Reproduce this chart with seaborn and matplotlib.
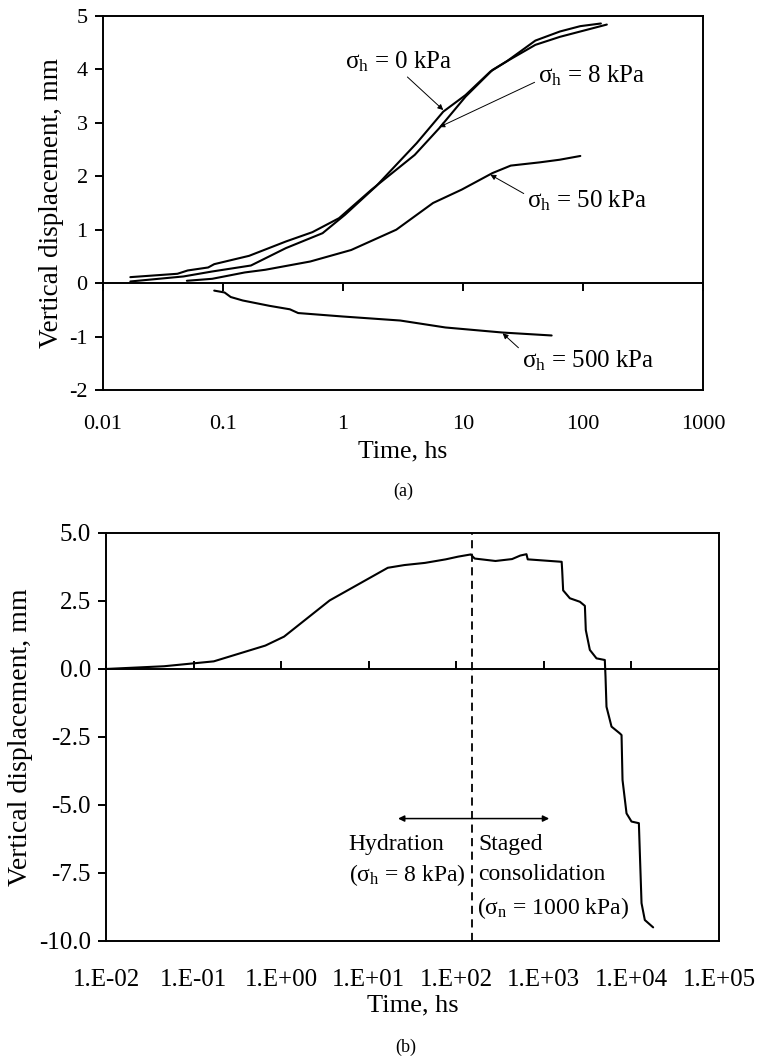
import numpy as np
import pandas as pd
import matplotlib
matplotlib.use("Agg")
import matplotlib.pyplot as plt
import seaborn as sns
from matplotlib.ticker import FixedLocator, FixedFormatter, NullLocator

# ---------------- data (a) ----------------
t_0kpa = [0.0169, 0.0469, 0.0813, 0.171, 0.334, 0.676, 1.04, 1.88, 4.11, 6.85, 10.5, 16.9, 23.1, 40.1, 64.2, 94.9, 141]
d_0kpa = [0.031, 0.125, 0.218, 0.330, 0.655, 0.935, 1.28, 1.81, 2.62, 3.21, 3.52, 3.96, 4.15, 4.54, 4.71, 4.81, 4.86]

t_8kpa = [0.0169, 0.0417, 0.0508, 0.0752, 0.0845, 0.165, 0.334, 0.556, 0.927, 1.73, 3.96, 6.34, 10.5, 17.6, 23.1, 40.1, 64.2, 158]
d_8kpa = [0.112, 0.175, 0.237, 0.293, 0.355, 0.511, 0.779, 0.954, 1.216, 1.75, 2.40, 2.90, 3.49, 3.99, 4.15, 4.46, 4.61, 4.84]

t_50kpa = [0.050, 0.0813, 0.152, 0.225, 0.534, 1.17, 2.78, 5.63, 9.75, 17.6, 25.0, 43.4, 64.0, 95.0]
d_50kpa = [0.044, 0.081, 0.20, 0.25, 0.405, 0.62, 1.00, 1.50, 1.75, 2.06, 2.20, 2.26, 2.31, 2.38]

t_500kpa = [0.0845, 0.103, 0.116, 0.146, 0.244, 0.361, 0.423, 1.0, 3.0, 7.13, 21.4, 54.8]
d_500kpa = [-0.14, -0.175, -0.26, -0.325, -0.425, -0.49, -0.56, -0.625, -0.70, -0.83, -0.925, -0.98]

xticks_a = [0.01, 0.1, 1, 10, 100, 1000]
xticklabels_a = ["0.01", "0.1", "1", "10", "100", "1000"]
yticks_a = [5, 4, 3, 2, 1, 0, -1, -2]

# ---------------- data (b) ----------------
t_b = [0.01, 0.046, 0.17, 0.66, 1.08, 3.58, 16.5, 25.5, 43.9, 75.7, 105, 146, 162, 280, 433, 538, 633, 654,
       1597, 1620, 1660, 1980, 2580, 2940, 3013, 3350, 3990, 4966, 5058, 5190, 5925, 7379, 7710, 7910,
       8790, 10020, 12160, 12480, 13040, 14220, 17700]
d_b = [0.0, 0.10, 0.28, 0.86, 1.19, 2.52, 3.72, 3.82, 3.90, 4.03, 4.13, 4.21, 4.06, 3.97, 4.04, 4.17, 4.22, 4.03,
       3.94, 3.60, 2.89, 2.60, 2.47, 2.32, 1.43, 0.70, 0.39, 0.33, -0.28, -1.39, -2.12, -2.37, -2.43, -4.08,
       -5.31, -5.61, -5.67, -6.78, -8.61, -9.23, -9.50]

xticks_b = [1e-2, 1e-1, 1e0, 1e1, 1e2, 1e3, 1e4, 1e5]
xticklabels_b = ["1.E-02", "1.E-01", "1.E+00", "1.E+01", "1.E+02", "1.E+03", "1.E+04", "1.E+05"]
yticks_b = [5.0, 2.5, 0.0, -2.5, -5.0, -7.5, -10.0]
yticklabels_b = ["5.0", "2.5", "0.0", "-2.5", "-5.0", "-7.5", "-10.0"]

t_switch = 150
arrow_span = [21.6, 1150]
arrow_level = -5.5

# ---------------- style ----------------
sns.set_theme(style="white")
plt.rcParams["font.family"] = ["Liberation Serif", "DejaVu Serif"]
plt.rcParams["mathtext.fontset"] = "custom"
plt.rcParams["mathtext.rm"] = "Liberation Serif"
plt.rcParams["mathtext.it"] = "Liberation Serif:italic"
plt.rcParams["axes.edgecolor"] = "black"
plt.rcParams["text.color"] = "black"
plt.rcParams["axes.labelcolor"] = "black"
plt.rcParams["xtick.color"] = "black"
plt.rcParams["ytick.color"] = "black"

LW = 1.5
SPW = 1.4

fig = plt.figure(figsize=(7.59, 10.60), dpi=100)
ax1 = fig.add_axes([0.1357, 0.6321, 0.7905, 0.3528])
ax2 = fig.add_axes([0.1397, 0.1123, 0.8076, 0.3849])


def style_axes(ax, xticks, xlabels, yticks, ylabels, ylo, yhi, fs_tick, fs_lab, zero_pos, xpad, xlabel_y):
    ax.set_xscale("log")
    ax.set_xlim(xticks[0], xticks[-1])
    ax.set_ylim(ylo, yhi)
    for s in ax.spines.values():
        s.set_visible(True)
        s.set_color("black")
        s.set_linewidth(SPW)
    ax.xaxis.set_major_locator(FixedLocator(xticks))
    ax.xaxis.set_major_formatter(FixedFormatter(xlabels))
    ax.xaxis.set_minor_locator(NullLocator())
    ax.yaxis.set_major_locator(FixedLocator(yticks))
    ax.yaxis.set_major_formatter(FixedFormatter(ylabels))
    ax.tick_params(axis="x", which="both", bottom=True, top=False, length=0,
                   pad=xpad, labelsize=fs_tick, colors="black")
    ax.tick_params(axis="y", which="major", left=True, right=False, direction="out",
                   length=6, width=SPW, pad=5, labelsize=fs_tick, colors="black")
    ax.set_xlabel("Time, hs", fontsize=fs_lab, color="black")
    ax.xaxis.set_label_coords(0.5, xlabel_y)
    ax.set_ylabel("Vertical displacement, mm", fontsize=fs_lab + 1, color="black", labelpad=4)
    # zero line with downward ticks
    sec = ax.secondary_xaxis(zero_pos)
    sec.set_xscale("log")
    sec.xaxis.set_major_locator(FixedLocator(xticks))
    sec.xaxis.set_minor_locator(NullLocator())
    sec.tick_params(axis="x", which="major", direction="out", length=6, width=SPW,
                    labelbottom=False, labeltop=False, colors="black")
    sec.tick_params(axis="x", which="minor", length=0)
    for s in sec.spines.values():
        s.set_color("black")
        s.set_linewidth(SPW)
    ax.grid(False)


# ---------------- (a) ----------------
style_axes(ax1, xticks_a, xticklabels_a, yticks_a, [str(v) for v in yticks_a], -2, 5,
           16, 18.5, 2 / 7, 18, -0.135)

for tt, dd in [(t_0kpa, d_0kpa), (t_8kpa, d_8kpa), (t_50kpa, d_50kpa), (t_500kpa, d_500kpa)]:
    sns.lineplot(x=tt, y=dd, ax=ax1, color="black", lw=LW, sort=False, estimator=None)

arr = dict(arrowstyle="-|>", lw=0.7, color="black", mutation_scale=8, shrinkA=0, shrinkB=0)
fs_ann = 18
ax1.annotate("σ$_\\mathregular{h}$ = 0 kPa", xy=(6.85, 3.24), xytext=(2.9, 4.15), fontsize=fs_ann,
             ha="center", va="center", arrowprops=dict(arr, relpos=(0.55, 0.0)))
ax1.annotate("σ$_\\mathregular{h}$ = 8 kPa", xy=(6.34, 2.92), xytext=(118, 3.88), fontsize=fs_ann,
             ha="center", va="center", arrowprops=dict(arr, relpos=(0.0, 0.3)))
ax1.annotate("σ$_\\mathregular{h}$ = 50 kPa", xy=(16.9, 2.03), xytext=(108, 1.55), fontsize=fs_ann,
             ha="center", va="center", arrowprops=dict(arr, relpos=(0.0, 0.7)))
ax1.annotate("σ$_\\mathregular{h}$ = 500 kPa", xy=(21.4, -0.94), xytext=(110, -1.45), fontsize=fs_ann,
             ha="center", va="center", arrowprops=dict(arr, relpos=(0.0, 0.9)))

fig.text(0.531, 0.536, "(a)", fontsize=13, ha="center", va="center")

# ---------------- (b) ----------------
style_axes(ax2, xticks_b, xticklabels_b, yticks_b, yticklabels_b, -10, 5,
           18, 19, 10 / 15, 20, -0.13)

sns.lineplot(x=t_b, y=d_b, ax=ax2, color="black", lw=LW, sort=False, estimator=None)
ax2.axvline(t_switch, color="black", lw=1.3, ls=(0, (4.5, 3)))
ax2.annotate("", xy=(arrow_span[0], arrow_level), xytext=(arrow_span[1], arrow_level),
             arrowprops=dict(arrowstyle="<|-|>", lw=1.1, color="black", mutation_scale=9,
                             shrinkA=0, shrinkB=0))

fs_b = 17
ax2.text(5.9, -6.47, "Hydration", fontsize=fs_b, ha="left", va="center")
ax2.text(5.9, -7.57, "(σ$_\\mathregular{h}$ = 8 kPa)", fontsize=fs_b, ha="left", va="center")
ax2.text(177, -6.47, "Staged", fontsize=fs_b, ha="left", va="center")
ax2.text(177, -7.57, "consolidation", fontsize=fs_b, ha="left", va="center")
ax2.text(172, -8.79, "(σ$_\\mathregular{n}$ = 1000 kPa)", fontsize=fs_b, ha="left", va="center")

fig.text(0.535, 0.0123, "(b)", fontsize=13, ha="center", va="center")

fig.savefig("out.png", dpi=100, facecolor="white")
